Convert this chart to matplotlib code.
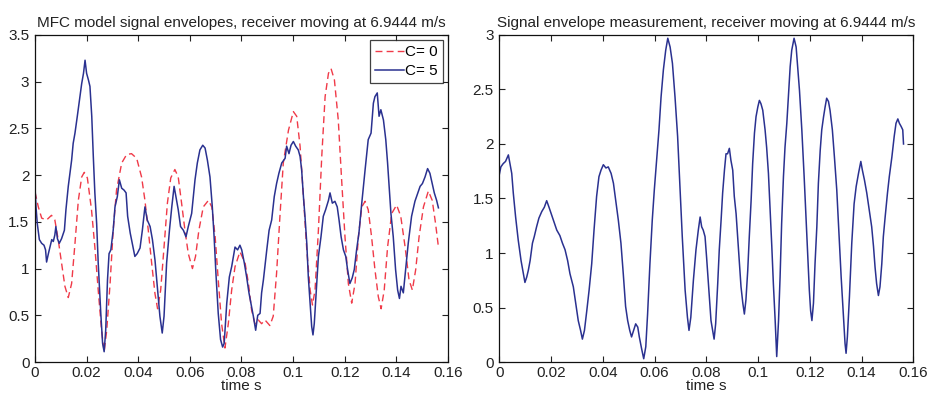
import matplotlib
matplotlib.use("Agg")
import matplotlib.pyplot as plt

plt.rcParams["font.family"] = ["Liberation Sans", "DejaVu Sans"]

# --- MFC model, C = 0 (dashed red) ---
t_c0 = [0.0000, 0.0013, 0.0026, 0.0045, 0.0064, 0.0077, 0.0090, 0.0103, 0.0116, 0.0129,
        0.0142, 0.0155, 0.0168, 0.0181, 0.0191, 0.0203, 0.0219, 0.0232, 0.0245, 0.0258,
        0.0268, 0.0278, 0.0291, 0.0303, 0.0316, 0.0336, 0.0355, 0.0374, 0.0394, 0.0413,
        0.0426, 0.0439, 0.0452, 0.0465, 0.0475, 0.0487, 0.0500, 0.0513, 0.0526, 0.0542,
        0.0555, 0.0568, 0.0581, 0.0594, 0.0610, 0.0622, 0.0635, 0.0652, 0.0672, 0.0685,
        0.0698, 0.0710, 0.0723, 0.0736, 0.0749, 0.0762, 0.0775, 0.0794, 0.0814, 0.0827,
        0.0839, 0.0852, 0.0865, 0.0878, 0.0891, 0.0910, 0.0923, 0.0936, 0.0949, 0.0962,
        0.0982, 0.1001, 0.1014, 0.1027, 0.1040, 0.1053, 0.1066, 0.1075, 0.1085, 0.1098,
        0.1111, 0.1124, 0.1137, 0.1147, 0.1160, 0.1175, 0.1188, 0.1201, 0.1214, 0.1227,
        0.1240, 0.1253, 0.1266, 0.1279, 0.1291, 0.1304, 0.1317, 0.1330, 0.1341, 0.1353,
        0.1366, 0.1382, 0.1401, 0.1417, 0.1434, 0.1449, 0.1462, 0.1475, 0.1488, 0.1505,
        0.1524, 0.1539, 0.1552, 0.1563]
env_c0 = [1.82, 1.66, 1.54, 1.52, 1.57, 1.52, 1.31, 1.06, 0.81, 0.69,
          0.84, 1.27, 1.73, 1.98, 2.03, 1.97, 1.63, 1.23, 0.77, 0.34,
          0.11, 0.34, 0.84, 1.41, 1.84, 2.13, 2.22, 2.23, 2.18, 1.98,
          1.73, 1.41, 1.06, 0.73, 0.57, 0.77, 1.23, 1.70, 1.97, 2.06,
          1.98, 1.70, 1.41, 1.16, 1.00, 1.13, 1.41, 1.66, 1.73, 1.66,
          1.34, 0.88, 0.41, 0.15, 0.41, 0.77, 1.02, 1.18, 1.06, 0.84,
          0.56, 0.41, 0.45, 0.41, 0.45, 0.39, 0.49, 0.95, 1.56, 2.13,
          2.48, 2.68, 2.63, 2.31, 1.77, 1.20, 0.77, 0.61, 0.77, 1.41,
          2.20, 2.84, 3.09, 3.14, 3.02, 2.59, 1.95, 1.34, 0.84, 0.63,
          0.84, 1.34, 1.66, 1.72, 1.63, 1.34, 0.99, 0.70, 0.57, 0.77,
          1.23, 1.59, 1.68, 1.56, 1.23, 0.88, 0.77, 0.99, 1.34, 1.66,
          1.83, 1.73, 1.48, 1.23]

# --- MFC model, C = 5 (solid blue) ---
t_c5 = [0.0000, 0.0004, 0.0009, 0.0017, 0.0026, 0.0035, 0.0041, 0.0045, 0.0052, 0.0058,
        0.0065, 0.0071, 0.0077, 0.0081, 0.0087, 0.0094, 0.0103, 0.0114, 0.0120, 0.0129,
        0.0142, 0.0148, 0.0155, 0.0164, 0.0174, 0.0181, 0.0188, 0.0194, 0.0200, 0.0207,
        0.0213, 0.0220, 0.0226, 0.0232, 0.0239, 0.0245, 0.0255, 0.0262, 0.0268, 0.0274,
        0.0281, 0.0287, 0.0294, 0.0303, 0.0310, 0.0319, 0.0327, 0.0336, 0.0345, 0.0353,
        0.0359, 0.0369, 0.0377, 0.0387, 0.0396, 0.0407, 0.0416, 0.0426, 0.0435, 0.0446,
        0.0455, 0.0465, 0.0475, 0.0484, 0.0493, 0.0500, 0.0510, 0.0521, 0.0530, 0.0539,
        0.0546, 0.0555, 0.0564, 0.0575, 0.0585, 0.0594, 0.0607, 0.0620, 0.0629, 0.0639,
        0.0650, 0.0659, 0.0668, 0.0678, 0.0687, 0.0694, 0.0701, 0.0710, 0.0719, 0.0727,
        0.0733, 0.0743, 0.0753, 0.0762, 0.0775, 0.0785, 0.0794, 0.0801, 0.0811, 0.0820,
        0.0829, 0.0839, 0.0846, 0.0855, 0.0863, 0.0872, 0.0878, 0.0885, 0.0898, 0.0907,
        0.0917, 0.0927, 0.0936, 0.0945, 0.0956, 0.0969, 0.0975, 0.0984, 0.0992, 0.1001,
        0.1010, 0.1020, 0.1027, 0.1033, 0.1040, 0.1046, 0.1053, 0.1059, 0.1066, 0.1072,
        0.1077, 0.1082, 0.1091, 0.1098, 0.1108, 0.1117, 0.1126, 0.1137, 0.1143, 0.1152,
        0.1162, 0.1171, 0.1178, 0.1186, 0.1195, 0.1204, 0.1211, 0.1220, 0.1229, 0.1237,
        0.1246, 0.1255, 0.1266, 0.1279, 0.1291, 0.1302, 0.1311, 0.1317, 0.1326, 0.1333,
        0.1340, 0.1350, 0.1359, 0.1366, 0.1373, 0.1379, 0.1388, 0.1397, 0.1405, 0.1412,
        0.1418, 0.1427, 0.1436, 0.1446, 0.1459, 0.1472, 0.1483, 0.1492, 0.1501, 0.1511,
        0.1521, 0.1530, 0.1539, 0.1547, 0.1556, 0.1563]
env_c5 = [1.88, 1.66, 1.48, 1.31, 1.27, 1.25, 1.20, 1.07, 1.16, 1.23,
          1.31, 1.29, 1.36, 1.45, 1.32, 1.27, 1.32, 1.41, 1.63, 1.88,
          2.16, 2.34, 2.45, 2.63, 2.84, 2.98, 3.09, 3.23, 3.09, 3.02,
          2.95, 2.63, 2.20, 1.81, 1.48, 1.06, 0.52, 0.20, 0.11, 0.34,
          0.88, 1.16, 1.20, 1.41, 1.66, 1.77, 1.95, 1.86, 1.84, 1.81,
          1.56, 1.38, 1.27, 1.13, 1.16, 1.22, 1.41, 1.66, 1.52, 1.45,
          1.31, 1.09, 0.77, 0.49, 0.31, 0.49, 1.06, 1.41, 1.66, 1.88,
          1.77, 1.63, 1.45, 1.41, 1.34, 1.45, 1.59, 1.95, 2.13, 2.27,
          2.32, 2.29, 2.16, 1.98, 1.66, 1.34, 0.95, 0.52, 0.24, 0.16,
          0.20, 0.63, 0.91, 1.02, 1.23, 1.20, 1.25, 1.20, 1.06, 0.91,
          0.74, 0.59, 0.49, 0.34, 0.50, 0.52, 0.74, 0.88, 1.20, 1.41,
          1.52, 1.77, 1.91, 2.02, 2.13, 2.18, 2.31, 2.23, 2.32, 2.36,
          2.31, 2.27, 2.20, 2.06, 1.77, 1.56, 1.27, 0.91, 0.63, 0.38,
          0.29, 0.41, 0.81, 1.13, 1.34, 1.56, 1.63, 1.73, 1.81, 1.70,
          1.72, 1.66, 1.52, 1.34, 1.20, 1.13, 0.99, 0.84, 0.90, 0.99,
          1.20, 1.38, 1.70, 2.06, 2.38, 2.45, 2.77, 2.84, 2.88, 2.63,
          2.70, 2.59, 2.38, 2.13, 1.84, 1.59, 1.34, 0.99, 0.77, 0.68,
          0.81, 0.74, 0.99, 1.27, 1.56, 1.72, 1.81, 1.88, 1.91, 1.98,
          2.07, 2.02, 1.91, 1.81, 1.73, 1.65]

# --- Measured envelope ---
t_meas = [0.0000, 0.0006, 0.0015, 0.0024, 0.0035, 0.0041, 0.0048, 0.0054, 0.0063, 0.0073,
          0.0084, 0.0093, 0.0099, 0.0106, 0.0112, 0.0119, 0.0128, 0.0135, 0.0144, 0.0153,
          0.0164, 0.0174, 0.0183, 0.0192, 0.0202, 0.0213, 0.0222, 0.0234, 0.0244, 0.0254,
          0.0264, 0.0273, 0.0286, 0.0295, 0.0305, 0.0314, 0.0321, 0.0329, 0.0338, 0.0347,
          0.0357, 0.0366, 0.0376, 0.0385, 0.0393, 0.0402, 0.0412, 0.0421, 0.0432, 0.0441,
          0.0450, 0.0460, 0.0470, 0.0479, 0.0488, 0.0496, 0.0504, 0.0511, 0.0519, 0.0527,
          0.0535, 0.0541, 0.0550, 0.0558, 0.0566, 0.0573, 0.0582, 0.0591, 0.0599, 0.0608,
          0.0617, 0.0625, 0.0634, 0.0643, 0.0651, 0.0660, 0.0669, 0.0679, 0.0689, 0.0698,
          0.0707, 0.0718, 0.0727, 0.0733, 0.0740, 0.0750, 0.0760, 0.0769, 0.0776, 0.0782,
          0.0788, 0.0795, 0.0801, 0.0810, 0.0818, 0.0825, 0.0830, 0.0836, 0.0844, 0.0850,
          0.0857, 0.0863, 0.0870, 0.0876, 0.0882, 0.0889, 0.0895, 0.0902, 0.0908, 0.0915,
          0.0921, 0.0928, 0.0934, 0.0941, 0.0947, 0.0953, 0.0960, 0.0966, 0.0973, 0.0979,
          0.0986, 0.0992, 0.0999, 0.1005, 0.1011, 0.1018, 0.1027, 0.1033, 0.1040, 0.1046,
          0.1053, 0.1059, 0.1066, 0.1072, 0.1079, 0.1085, 0.1091, 0.1098, 0.1104, 0.1111,
          0.1117, 0.1124, 0.1130, 0.1139, 0.1147, 0.1153, 0.1160, 0.1169, 0.1178, 0.1185,
          0.1192, 0.1198, 0.1203, 0.1208, 0.1214, 0.1220, 0.1227, 0.1233, 0.1240, 0.1246,
          0.1253, 0.1259, 0.1265, 0.1272, 0.1278, 0.1287, 0.1295, 0.1304, 0.1313, 0.1321,
          0.1330, 0.1336, 0.1340, 0.1345, 0.1353, 0.1362, 0.1371, 0.1379, 0.1388, 0.1397,
          0.1403, 0.1411, 0.1420, 0.1430, 0.1439, 0.1446, 0.1452, 0.1458, 0.1465, 0.1471,
          0.1478, 0.1484, 0.1491, 0.1500, 0.1507, 0.1517, 0.1526, 0.1533, 0.1540, 0.1546,
          0.1553, 0.1559, 0.1562]
env_meas = [1.72, 1.79, 1.82, 1.84, 1.90, 1.82, 1.73, 1.55, 1.33, 1.12,
            0.93, 0.81, 0.73, 0.78, 0.84, 0.93, 1.09, 1.15, 1.24, 1.32,
            1.38, 1.42, 1.48, 1.42, 1.35, 1.27, 1.21, 1.16, 1.09, 1.03,
            0.93, 0.81, 0.69, 0.54, 0.38, 0.29, 0.21, 0.29, 0.47, 0.66,
            0.90, 1.21, 1.52, 1.70, 1.76, 1.81, 1.78, 1.79, 1.73, 1.64,
            1.48, 1.30, 1.09, 0.81, 0.51, 0.38, 0.29, 0.23, 0.29, 0.35,
            0.32, 0.23, 0.12, 0.03, 0.14, 0.44, 0.90, 1.30, 1.58, 1.85,
            2.13, 2.43, 2.68, 2.86, 2.97, 2.89, 2.74, 2.43, 2.07, 1.61,
            1.15, 0.66, 0.41, 0.29, 0.41, 0.75, 1.03, 1.21, 1.33, 1.24,
            1.21, 1.15, 0.96, 0.66, 0.38, 0.28, 0.21, 0.35, 0.72, 1.03,
            1.30, 1.55, 1.76, 1.91, 1.91, 1.96, 1.85, 1.76, 1.52, 1.36,
            1.15, 0.90, 0.69, 0.54, 0.44, 0.57, 0.84, 1.15, 1.48, 1.82,
            2.10, 2.25, 2.34, 2.40, 2.37, 2.31, 2.13, 1.97, 1.73, 1.42,
            1.06, 0.72, 0.38, 0.05, 0.38, 0.78, 1.27, 1.70, 1.97, 2.19,
            2.43, 2.71, 2.86, 2.97, 2.89, 2.71, 2.49, 2.13, 1.70, 1.33,
            0.96, 0.66, 0.47, 0.38, 0.54, 0.90, 1.24, 1.64, 1.94, 2.13,
            2.25, 2.34, 2.42, 2.39, 2.31, 2.13, 1.88, 1.58, 1.15, 0.78,
            0.41, 0.17, 0.08, 0.23, 0.60, 1.09, 1.45, 1.61, 1.73, 1.84,
            1.76, 1.67, 1.55, 1.39, 1.24, 1.06, 0.87, 0.72, 0.61, 0.69,
            0.90, 1.15, 1.33, 1.55, 1.70, 1.88, 2.07, 2.19, 2.23, 2.19,
            2.16, 2.13, 2.00]

x_ticks = [0, 0.02, 0.04, 0.06, 0.08, 0.1, 0.12, 0.14, 0.16]
x_ticklabels = ["0", "0.02", "0.04", "0.06", "0.08", "0.1", "0.12", "0.14", "0.16"]
left_yticks = [0, 0.5, 1, 1.5, 2, 2.5, 3, 3.5]
left_yticklabels = ["0", "0.5", "1", "1.5", "2", "2.5", "3", "3.5"]
right_yticks = [0, 0.5, 1, 1.5, 2, 2.5, 3]
right_yticklabels = ["0", "0.5", "1", "1.5", "2", "2.5", "3"]

speed = "6.9444"
blue = "#2a3190"
red = "#f03a48"
text_color = "#222222"
fs = 11

fig = plt.figure(figsize=(9.3, 3.94), dpi=100)
ax1 = fig.add_axes([0.0376, 0.0812, 0.4441, 0.8300])
ax2 = fig.add_axes([0.5369, 0.0812, 0.4452, 0.8300])


def style(ax, yticks, yticklabels, ymax):
    ax.set_xlim(0, 0.16)
    ax.set_ylim(0, ymax)
    ax.set_xticks(x_ticks)
    ax.set_xticklabels(x_ticklabels)
    ax.set_yticks(yticks)
    ax.set_yticklabels(yticklabels)
    ax.tick_params(direction="in", length=4, width=0.8, top=True, right=True,
                   labelsize=fs, colors=text_color)
    ax.tick_params(axis="x", pad=3)
    ax.tick_params(axis="y", pad=4)
    for sp in ax.spines.values():
        sp.set_linewidth(0.9)
        sp.set_color("#111111")
    ax.set_xlabel("time s", fontsize=fs, labelpad=-1, color=text_color)


ax1.plot(t_c0, env_c0, color=red, linestyle=(0, (5, 3)), linewidth=1.0, label="C= 0")
ax1.plot(t_c5, env_c5, color=blue, linewidth=1.1, label="C= 5")
style(ax1, left_yticks, left_yticklabels, 3.5)
ax1.set_title(f"MFC model signal envelopes, receiver moving at {speed} m/s",
              fontsize=fs, pad=6, color=text_color)
leg = ax1.legend(loc="upper right", fontsize=fs, frameon=True, fancybox=False,
                 edgecolor="#111111", borderaxespad=0.35, handlelength=1.9,
                 handletextpad=0.1, borderpad=0.3, labelspacing=0.35)
leg.get_frame().set_linewidth(0.9)

ax2.plot(t_meas, env_meas, color=blue, linewidth=1.1)
style(ax2, right_yticks, right_yticklabels, 3.0)
ax2.set_title(f"Signal envelope measurement, receiver moving at {speed} m/s",
              fontsize=fs, pad=6, color=text_color)

fig.savefig("out.png", dpi=100)
